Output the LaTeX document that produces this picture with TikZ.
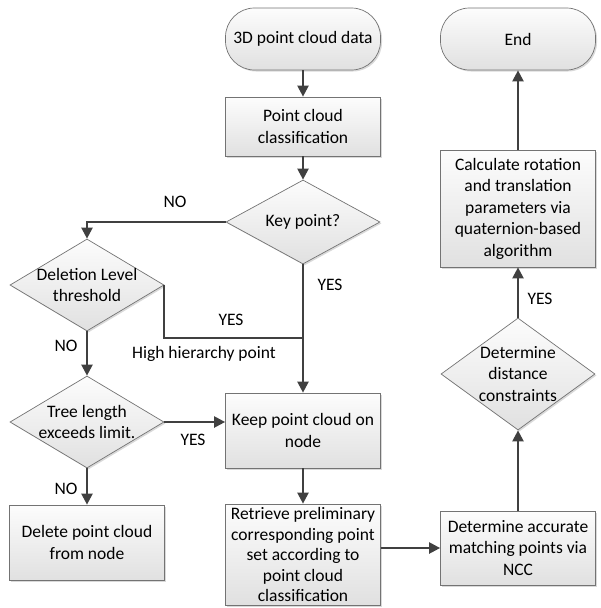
\documentclass[tikz,border=0pt]{standalone}
\usepackage{fontspec}
\setmainfont{Carlito}
\usetikzlibrary{arrows.meta,shapes.geometric,shadows}
\begin{document}
\begin{tikzpicture}[x=1pt,y=-1pt,
 txt/.style={font=\fontsize{17.5}{21.5}\selectfont, align=center, inner sep=0pt},
 box/.style={txt, draw=black!55, line width=0.7pt, top color=white!99!black, bottom color=white!88!black,
   drop shadow={opacity=0.3,shadow xshift=1.5pt,shadow yshift=-1.5pt}},
 proc/.style={box, rectangle, minimum width=155pt},
 term/.style={box, rectangle, rounded corners=29pt, minimum width=155pt, minimum height=62pt},
 dia/.style={box, diamond, minimum width=154pt},
 inlbl/.style={txt},
 arr/.style={line width=2.2pt, draw=black!75, -{Triangle[length=11pt,width=11pt]}},
 ln/.style={line width=2.2pt, draw=black!75},
]
\useasboundingbox (0,0) rectangle (601,608);

\node[term] (start) at (303,39) {3D point cloud data};
\node[proc, minimum height=59pt] (cls) at (303,126.5) {Point cloud\\classification};
\node[dia, minimum height=84pt, label={[inlbl]center:Key point?}] (kp) at (303,222) {};
\node[dia, minimum height=92pt, label={[inlbl]center:Deletion Level\\threshold}] (del) at (87,285) {};
\node[dia, minimum height=92pt, label={[inlbl]center:Tree length\\exceeds limit.}] (tree) at (87,422) {};
\node[proc, minimum height=75pt] (keep) at (303,430.5) {Keep point cloud on\\node};
\node[proc, minimum height=101pt, font=\fontsize{17.5}{20.5}\selectfont] (ret) at (303,554.5) {Retrieve preliminary\\corresponding point\\set according to\\point cloud\\classification};
\node[proc, minimum height=75pt] (delb) at (87,542.5) {Delete point cloud\\from node};
\node[proc, minimum height=74pt] (acc) at (518,548) {Determine accurate\\matching points via\\NCC};
\node[dia, minimum height=112pt, label={[inlbl]center:Determine\\distance\\constraints}] (dist) at (518,374) {};
\node[proc, minimum height=117pt] (calc) at (518,208.5) {Calculate rotation\\and translation\\parameters via\\quaternion-based\\algorithm};
\node[term] (end) at (518,39) {End};

\coordinate (j) at (303,338);

\draw[arr] (start) -- (cls);
\draw[arr] (cls) -- (kp);
\draw[arr] (kp.west) -| (del.north);
\draw[arr] (kp.south) -- (keep.north);
\draw[ln] (del.east) |- (j);
\draw[arr] (del.south) -- (tree.north);
\draw[arr] (tree.east) -- (tree.east -| keep.west);
\draw[arr] (tree.south) -- (delb.north);
\draw[arr] (keep.south) -- (ret.north);
\draw[arr] (acc.west -| ret.east) -- (acc.west);
\draw[arr] (acc.north) -- (dist.south);
\draw[arr] (dist.north) -- (calc.south);
\draw[arr] (calc.north) -- (end.south);

\node[txt] (l1) at (175,202) {NO};
\node[txt] (l2) at (231,320) {YES};
\node[txt] (l3) at (204,354) {High hierarchy point};
\node[txt] (l4) at (330,285) {YES};
\node[txt] (l5) at (66,346) {NO};
\node[txt] (l6) at (193,440) {YES};
\node[txt] (l7) at (66,489) {NO};
\node[txt] (l8) at (540,299) {YES};
\end{tikzpicture}
\end{document}
